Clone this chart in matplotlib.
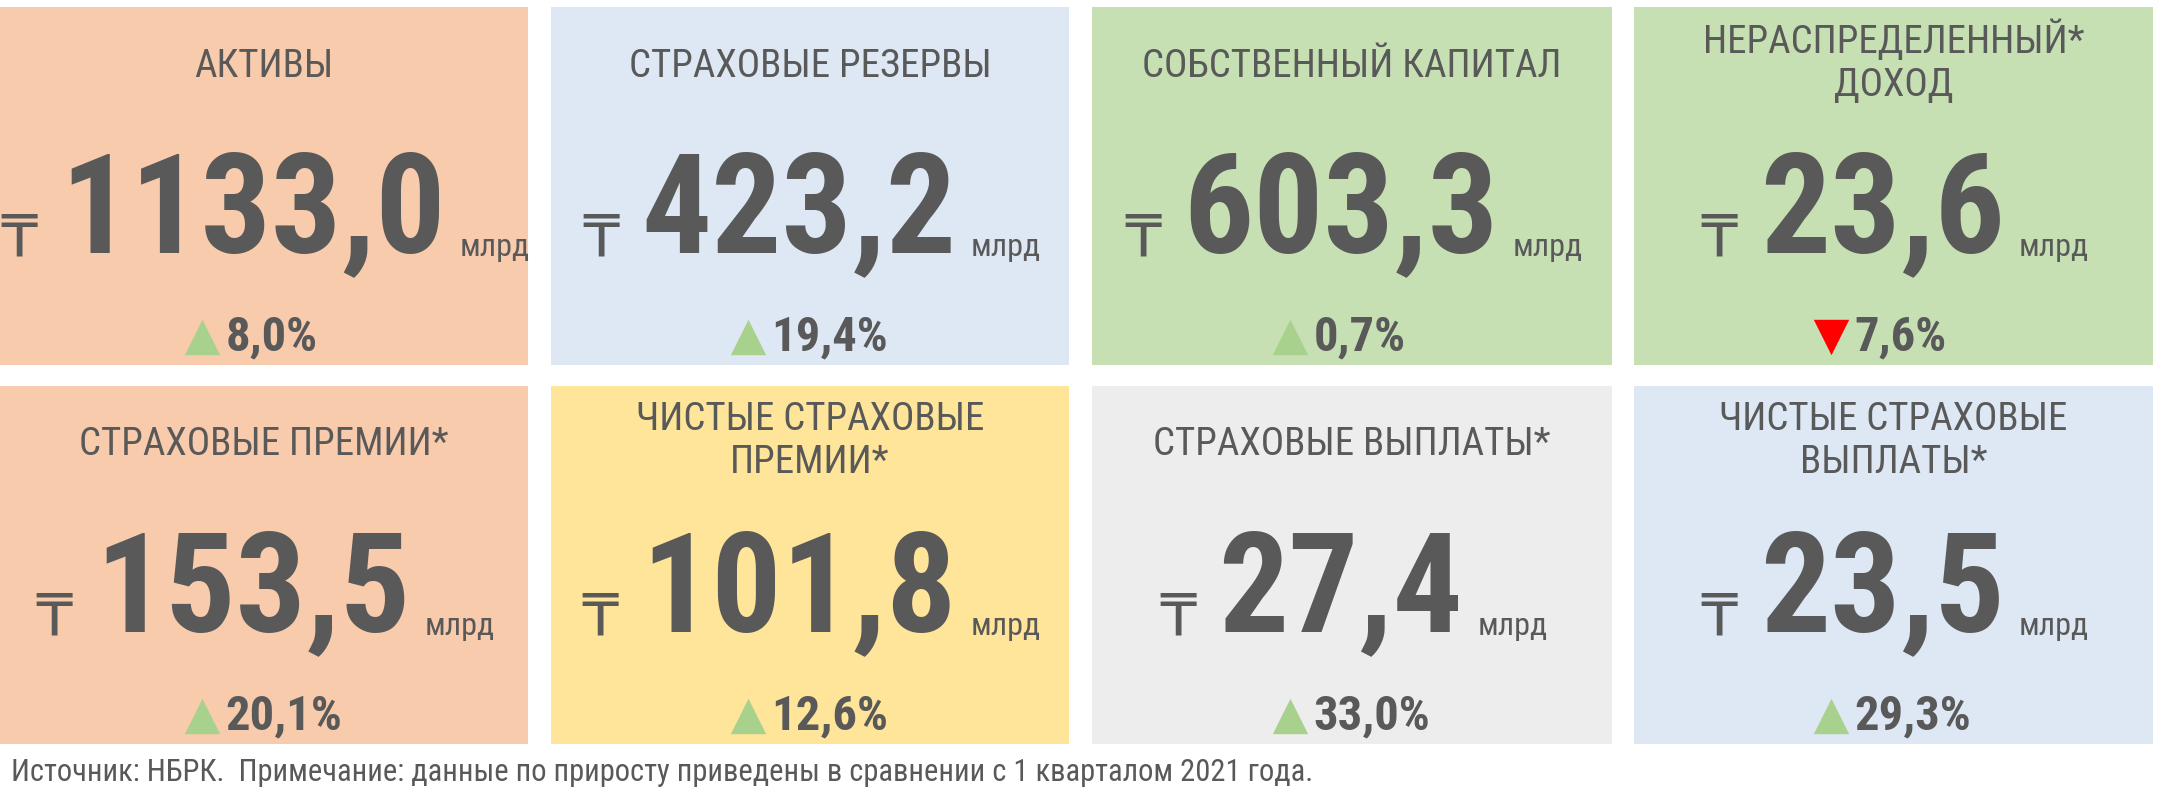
import matplotlib
matplotlib.use("Agg")
import matplotlib.pyplot as plt
from matplotlib.patches import Rectangle

titles = ["АКТИВЫ", "СТРАХОВЫЕ РЕЗЕРВЫ", "СОБСТВЕННЫЙ КАПИТАЛ", "НЕРАСПРЕДЕЛЕННЫЙ*\nДОХОД",
          "СТРАХОВЫЕ ПРЕМИИ*", "ЧИСТЫЕ СТРАХОВЫЕ\nПРЕМИИ*", "СТРАХОВЫЕ ВЫПЛАТЫ*", "ЧИСТЫЕ СТРАХОВЫЕ\nВЫПЛАТЫ*"]
values = ["1133,0", "423,2", "603,3", "23,6", "153,5", "101,8", "27,4", "23,5"]
changes = ["8,0%", "19,4%", "0,7%", "7,6%", "20,1%", "12,6%", "33,0%", "29,3%"]
directions = ["up", "up", "up", "down", "up", "up", "up", "up"]
colors = ["#F7CBAC", "#DEE8F4", "#C6E0B4", "#C6E0B4", "#F7CBAC", "#FFE599", "#EDEDED", "#DEE8F4"]
footer = "Источник: НБРК.  Примечание: данные по приросту приведены в сравнении с 1 кварталом 2021 года."

NARROW = ["Liberation Sans Narrow", "Roboto Condensed", "DejaVu Sans"]
GREY = "#595959"

fig = plt.figure(figsize=(21.6, 7.96), dpi=100)
ax = fig.add_axes([0, 0, 1, 1])
W, H = 1568, 578
ax.set_xlim(0, W); ax.set_ylim(H, 0); ax.axis("off")

xs = [(0, 383), (400, 776), (793, 1170), (1186, 1563)]
ys = [(5, 265), (280, 540)]
for i in range(8):
    r, c = divmod(i, 4)
    x0, x1 = xs[c]; y0, y1 = ys[r]
    ax.add_patch(Rectangle((x0, y0), x1 - x0, y1 - y0, color=colors[i], lw=0))
    cx = (x0 + x1) / 2
    ty = y0 + 40 if "\n" in titles[i] else y0 + 43
    ax.text(cx, ty, titles[i], ha="center", va="center", fontsize=28, color=GREY,
            family=NARROW, linespacing=1.2)
    num = ax.text(cx - 8, y0 + 150, values[i], ha="center", va="center", fontsize=100,
                  fontweight="bold", color=GREY, family=NARROW)
    ax.annotate("₸", xy=(0, 0.3), xycoords=num, xytext=(-16, 0), textcoords="offset points",
                ha="right", va="center", fontsize=42, color=GREY, family=["DejaVu Sans"])
    ax.annotate("млрд", xy=(1, 0.18), xycoords=num, xytext=(10, 0), textcoords="offset points",
                ha="left", va="baseline", fontsize=23, color=GREY, family=NARROW)
    ty2 = y0 + 240
    up = directions[i] == "up"
    ax.scatter([cx - 45], [ty2], marker="^" if up else "v", s=650,
               color="#A9D18E" if up else "#FF0000", lw=0)
    ax.text(cx - 28, ty2, changes[i], ha="left", va="center", fontsize=35,
            fontweight="bold", color=GREY, family=NARROW)

ax.text(8, 561, footer, ha="left", va="center", fontsize=22, color=GREY, family=NARROW)
fig.savefig("out.png", dpi=100)
